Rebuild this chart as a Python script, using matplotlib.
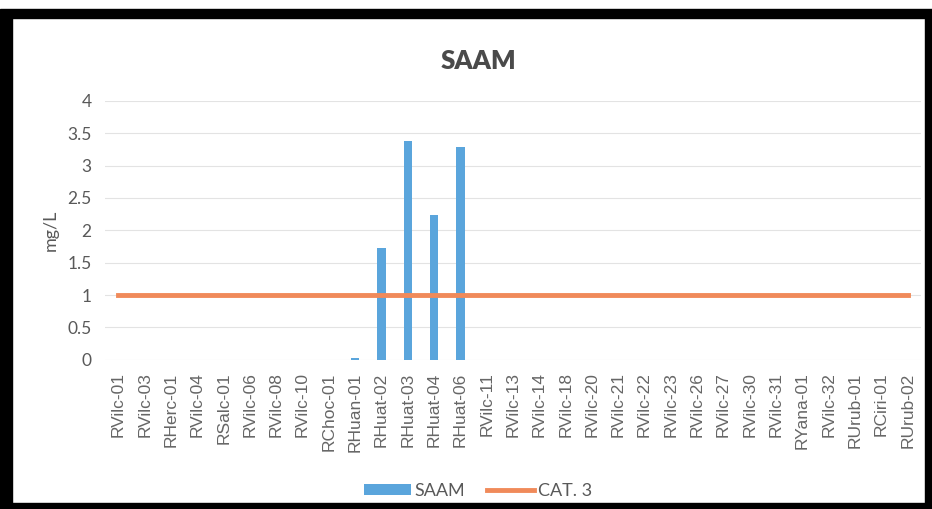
import matplotlib
matplotlib.use("Agg")
import matplotlib.pyplot as plt
from matplotlib.patches import Rectangle

stations = ["RVilc-01", "RVilc-03", "RHerc-01", "RVilc-04", "RSalc-01", "RVilc-06",
            "RVilc-08", "RVilc-10", "RChoc-01", "RHuan-01", "RHuat-02", "RHuat-03",
            "RHuat-04", "RHuat-06", "RVilc-11", "RVilc-13", "RVilc-14", "RVilc-18",
            "RVilc-20", "RVilc-21", "RVilc-22", "RVilc-23", "RVilc-26", "RVilc-27",
            "RVilc-30", "RVilc-31", "RYana-01", "RVilc-32", "RUrub-01", "RCiri-01",
            "RUrub-02"]
saam = [0, 0, 0, 0, 0, 0, 0, 0, 0, 0.03, 1.73, 3.38, 2.24, 3.29,
        0, 0, 0, 0, 0, 0, 0, 0, 0, 0, 0, 0, 0, 0, 0, 0, 0]
cat3 = [1.0] * len(stations)
yticks = [0, 0.5, 1, 1.5, 2, 2.5, 3, 3.5, 4]

fig = plt.figure(figsize=(9.32, 5.09), dpi=100)
ax = fig.add_axes([0.113, 0.293, 0.875, 0.509])

x = list(range(len(stations)))
bars = ax.bar(x, saam, width=0.32, color="#5aa5dc", label="SAAM", zorder=2)
line, = ax.plot(x, cat3, color="#f08a5a", linewidth=3.5, label="CAT. 3", zorder=3)

ax.set_ylim(0, 4)
ax.set_xlim(-0.5, len(stations) - 0.5)
ax.set_yticks(yticks)
ax.set_yticklabels([f"{v:g}" for v in yticks], fontsize=12.5, color="#595959",
                   family="Lato")
ax.set_xticks(x)
ax.set_xticklabels(stations, rotation=90, fontsize=12.5, color="#666666",
                   family="Liberation Sans")
ax.tick_params(axis="x", length=0, pad=9)
ax.tick_params(axis="y", length=0, pad=10)
ax.grid(axis="y", color="#e3e3e3", linewidth=0.8, zorder=0)
for s in ax.spines.values():
    s.set_visible(False)
ax.set_ylabel("mg/L", fontsize=13, color="#595959", family="Lato", labelpad=6)

fig.text(0.513, 0.88, "SAAM", ha="center", va="center", fontsize=18.5,
         fontweight="heavy", color="#4a4a4a", family="Lato")

fig.legend([bars, line], ["SAAM", "CAT. 3"], loc="lower center",
           bbox_to_anchor=(0.513, -0.012), ncol=2, frameon=False,
           prop={"family": "Lato", "size": 13}, labelcolor="#595959",
           handlelength=2.6, handleheight=0.5, handletextpad=0.2,
           columnspacing=1.2)

# black frame of the scanned picture
fig.patches.append(Rectangle((0, 0), 0.013, 0.98, transform=fig.transFigure,
                             color="black", zorder=10))
fig.patches.append(Rectangle((0, 0.965), 1, 0.018, transform=fig.transFigure,
                             color="black", zorder=10))
fig.patches.append(Rectangle((0, 0), 1, 0.012, transform=fig.transFigure,
                             color="black", zorder=10))
fig.patches.append(Rectangle((0.993, 0), 0.007, 0.98, transform=fig.transFigure,
                             color="black", zorder=10))

fig.savefig("out.png", dpi=100)
